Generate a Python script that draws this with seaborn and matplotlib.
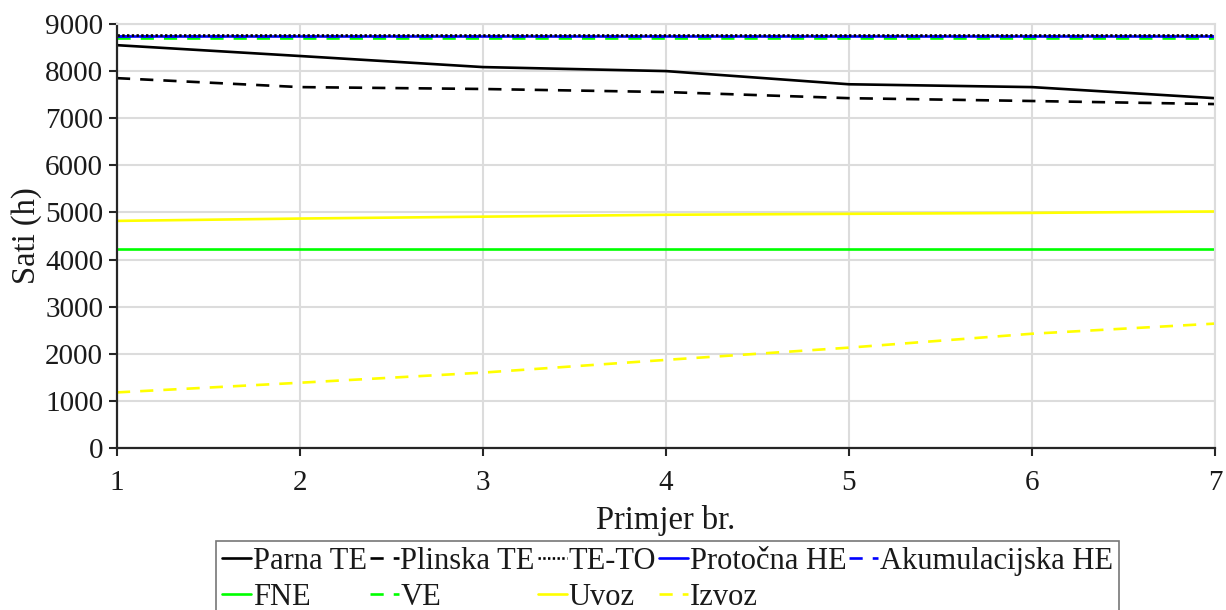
import matplotlib
matplotlib.use("Agg")
from matplotlib import pyplot as plt
import seaborn as sns
import pandas as pd

# Podaci očitani sa slike
primjer = [1, 2, 3, 4, 5, 6, 7]
parna_te = [8550, 8320, 8085, 8000, 7720, 7660, 7425]
plinska_te = [7850, 7660, 7620, 7555, 7425, 7365, 7300]
te_to = [8760, 8760, 8760, 8760, 8760, 8760, 8760]
protocna_he = [8740, 8740, 8740, 8740, 8740, 8740, 8740]
akumulacijska_he = [8740, 8740, 8740, 8740, 8740, 8740, 8740]
fne = [4220, 4220, 4220, 4220, 4220, 4220, 4220]
ve = [8700, 8700, 8700, 8700, 8700, 8700, 8700]
uvoz = [4820, 4870, 4910, 4950, 4970, 4990, 5020]
izvoz = [1180, 1385, 1600, 1870, 2130, 2425, 2640]

serije = {
    'Parna TE': (parna_te, 'black', '-'),
    'Plinska TE': (plinska_te, 'black', '--'),
    'TE-TO': (te_to, 'black', ':'),
    'Akumulacijska HE': (akumulacijska_he, '#0000ff', '--'),
    'Protočna HE': (protocna_he, '#0000ff', '-'),
    'FNE': (fne, '#00ff00', '-'),
    'VE': (ve, '#00ff00', '--'),
    'Uvoz': (uvoz, '#ffff00', '-'),
    'Izvoz': (izvoz, '#ffff00', '--'),
}

sns.set_style("whitegrid")
plt.rcParams['font.family'] = ['Liberation Serif', 'DejaVu Serif']
plt.rcParams['text.color'] = '#1a1a1a'
plt.rcParams['axes.labelcolor'] = '#1a1a1a'

fig = plt.figure(figsize=(12.26, 6.10), dpi=100)
ax = fig.add_axes([0.0954, 0.2656, 0.8956, 0.6951])

# crtanje redom tako da TE-TO ostane iznad plave
redoslijed = ['Parna TE', 'Plinska TE', 'FNE', 'Uvoz', 'Izvoz', 'VE',
              'Akumulacijska HE', 'Protočna HE', 'TE-TO']
linije = {}
for ime in redoslijed:
    vrijednosti, boja, stil = serije[ime]
    df = pd.DataFrame({'Primjer br.': primjer, 'Sati (h)': vrijednosti})
    sns.lineplot(data=df, x='Primjer br.', y='Sati (h)', ax=ax, color=boja,
                 linewidth=1.9, label=ime)
    l = ax.lines[-1]
    if stil == '--':
        l.set_dashes((5, 3.8))
    elif stil == ':':
        l.set_dashes((0.9, 0.9))
    linije[ime] = l

ax.set_xlim(1, 7)
ax.set_ylim(0, 9000)
ax.set_xticks(primjer)
ax.set_yticks(range(0, 9001, 1000))
ax.grid(True, color='#dcdcdc', linewidth=1.5)
ax.set_xlabel('Primjer br.', fontsize=23.5, labelpad=6)
ax.set_ylabel('Sati (h)', fontsize=23.5, labelpad=2)
ax.tick_params(axis='both', labelsize=21, direction='out', length=6, width=1.5,
               color='#262626', labelcolor='#1a1a1a', left=True, bottom=True)
ax.tick_params(axis='y', pad=4)
ax.tick_params(axis='x', pad=10)
for s in ['left', 'bottom']:
    ax.spines[s].set_color('#262626')
    ax.spines[s].set_linewidth(1.6)
for s in ['top', 'right']:
    ax.spines[s].set_color('#dcdcdc')
    ax.spines[s].set_linewidth(1.5)

ax.get_legend().remove()
# redoslijed za legendu (popunjava se po stupcima)
leg_red = ['Parna TE', 'FNE', 'Plinska TE', 'VE', 'TE-TO', 'Uvoz',
           'Protočna HE', 'Izvoz', 'Akumulacijska HE']
leg = fig.legend([linije[i] for i in leg_red], leg_red, ncol=5,
                 loc='upper center', bbox_to_anchor=(0.5445, 0.113),
                 fontsize=22, frameon=True, fancybox=False, edgecolor='#555555',
                 handlelength=0.95, handletextpad=0.05, columnspacing=0.1,
                 labelspacing=0.22, borderpad=0.2, borderaxespad=0)
leg.get_frame().set_linewidth(1.2)

fig.savefig('out.png', dpi=100)
